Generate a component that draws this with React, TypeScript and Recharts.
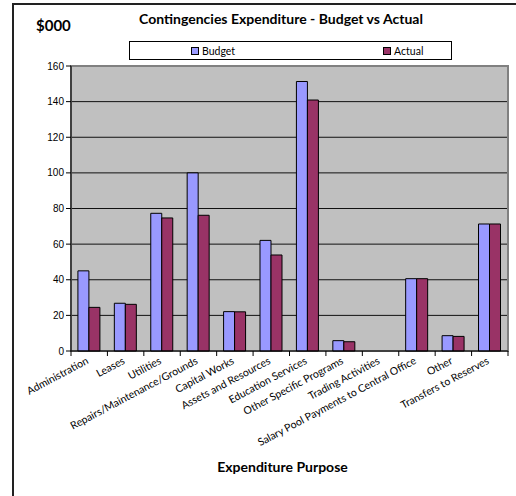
import React from "react";
import {
  Bar,
  BarChart,
  CartesianGrid,
  Label,
  Legend,
  ReferenceArea,
  XAxis,
  YAxis,
} from "recharts";

const categories = [
  "Administration",
  "Leases",
  "Utilities",
  "Repairs/Maintenance/Grounds",
  "Capital Works",
  "Assets and Resources",
  "Education Services",
  "Other Specific Programs",
  "Trading Activities",
  "Salary Pool Payments to Central Office",
  "Other",
  "Transfers to Reserves",
];
const budget = [45, 26.8, 77.3, 100, 22.1, 62.1, 151.3, 5.8, 0, 40.6, 8.6, 71.3];
const actual = [24.5, 26.2, 74.7, 76.2, 22, 53.9, 140.9, 5.2, 0, 40.6, 8.2, 71.3];
const yTicks = [0, 20, 40, 60, 80, 100, 120, 140, 160];

const data = categories.map((name, i) => ({
  name,
  budget: budget[i],
  actual: actual[i],
}));

const W = 516;
const H = 496;
const margin = { top: 66, right: 8, left: 13, bottom: 10 };
const yAxisWidth = 58;
const step = (W - margin.left - margin.right - yAxisWidth) / categories.length;

const BUDGET = "#9999FF";
const ACTUAL = "#993366";
const labelFont = "Lato, 'Open Sans', sans-serif";

const CategoryTick = (props: any) => {
  const { x, y, payload, index } = props;
  const last = index === categories.length - 1;
  return (
    <g>
      <line x1={x - step / 2} x2={x - step / 2} y1={y - 8} y2={y - 3} stroke="#000" />
      {last && (
        <line x1={x + step / 2} x2={x + step / 2} y1={y - 8} y2={y - 3} stroke="#000" />
      )}
      <text
        x={x}
        y={y + 4}
        textAnchor="end"
        transform={`rotate(-28, ${x}, ${y + 4})`}
        fontSize={10.5}
        fontFamily={labelFont}
        fill="#000"
      >
        {payload.value}
      </text>
    </g>
  );
};

const LegendBox = () => (
  <div
    style={{
      border: "1px solid #000",
      height: 19,
      boxSizing: "border-box",
      display: "flex",
      alignItems: "center",
      fontFamily: labelFont,
      fontSize: 10.5,
    }}
  >
    {[
      { label: "Budget", color: BUDGET, pad: 61 },
      { label: "Actual", color: ACTUAL, pad: 148 },
    ].map((it) => (
      <div key={it.label} style={{ display: "flex", alignItems: "center", marginLeft: it.pad }}>
        <span
          style={{
            width: 6,
            height: 6,
            background: it.color,
            border: "1px solid #000",
            marginRight: 3,
          }}
        />
        {it.label}
      </div>
    ))}
  </div>
);

export default function App() {
  return (
    <div
      style={{
        position: "absolute",
        left: 0,
        top: 0,
        width: W,
        height: H,
        overflow: "hidden",
        background: "#fff",
      }}
    >
      <div
        style={{
          position: "absolute",
          left: 12,
          top: 3,
          width: 520,
          height: 520,
          border: "2px solid #222",
        }}
      />
      <div
        style={{
          position: "absolute",
          left: 36,
          top: 16,
          fontFamily: labelFont,
          fontWeight: 700,
          fontSize: 15,
        }}
      >
        $000
      </div>
      <div
        style={{
          position: "absolute",
          left: 0,
          width: 562,
          top: 10,
          textAlign: "center",
          fontFamily: labelFont,
          fontWeight: 700,
          fontSize: 14,
        }}
      >
        Contingencies Expenditure - Budget vs Actual
      </div>
      <BarChart
        width={W}
        height={H}
        data={data}
        margin={margin}
        barGap={0}
        barCategoryGap="19%"
        style={{ position: "absolute", left: 0, top: 0 }}
      >
        <CartesianGrid vertical={false} stroke="#111" fill="#C0C0C0" />
        <ReferenceArea y1={0} y2={160} fill="none" stroke="#808080" strokeWidth={2} />
        <XAxis
          dataKey="name"
          interval={0}
          height={135}
          tickLine={false}
          axisLine={{ stroke: "#000" }}
          tick={<CategoryTick />}
        >
          <Label
            value="Expenditure Purpose"
            position="insideBottom"
            offset={14}
            dx={-7}
            style={{ fontFamily: labelFont, fontWeight: 700, fontSize: 14, fill: "#000" }}
          />
        </XAxis>
        <YAxis
          width={yAxisWidth}
          domain={[0, 160]}
          ticks={yTicks}
          interval={0}
          tickSize={5}
          tickLine={{ stroke: "#000" }}
          axisLine={{ stroke: "#000" }}
          tick={{ fontSize: 10, fill: "#000", fontFamily: "'Liberation Sans', Arial, sans-serif" }}
        />
        <Legend
          layout="horizontal"
          verticalAlign="middle"
          wrapperStyle={{ position: "absolute", top: 41, left: 129, width: 323 }}
          content={() => <LegendBox />}
        />
        <Bar dataKey="budget" name="Budget" fill={BUDGET} stroke="#000" isAnimationActive={false} />
        <Bar dataKey="actual" name="Actual" fill={ACTUAL} stroke="#000" isAnimationActive={false} />
      </BarChart>
    </div>
  );
}
